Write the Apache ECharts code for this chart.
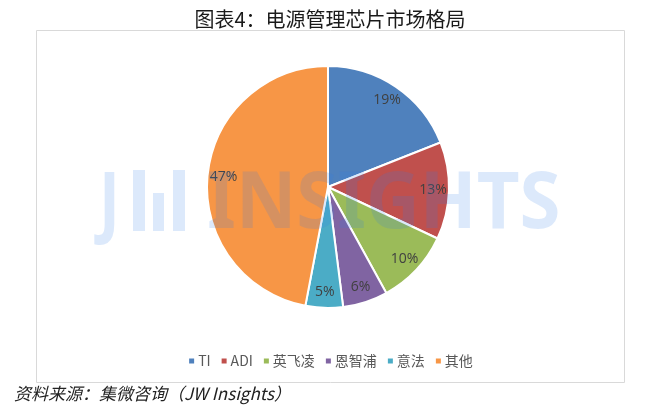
<!DOCTYPE html>
<html><head><meta charset="utf-8">
<script src="https://cdn.jsdelivr.net/npm/echarts@6/dist/echarts.min.js"></script>
<style>html,body{margin:0;padding:0;background:#fff}#c{width:660px;height:413px}</style>
</head><body><div id="c"></div>
<script>
var categories = ['TI','ADI','英飞凌','恩智浦','意法','其他'];
var shares = [19,13,10,6,5,47];
var colors = ['#4F81BD','#C0504D','#9BBB59','#8064A2','#4BACC6','#F79646'];
var titleText = '图表4：电源管理芯片市场格局';
var sourceText = '资料来源：集微咨询（JW Insights）';

var data = categories.map(function(c,i){return {name:c,value:shares[i],itemStyle:{color:colors[i]}};});
var chart = echarts.init(document.getElementById('c'));
var wmFill = 'rgba(50,125,230,0.17)';
chart.setOption({
  animation:false,
  title:{text:titleText,left:'center',top:4,textStyle:{fontFamily:'Noto Sans CJK SC',fontSize:20,fontWeight:'normal',color:'#1a1a1a'}},
  legend:{data:categories,left:'center',top:349,itemWidth:7,itemHeight:7,itemGap:9,icon:'rect',
    textStyle:{fontFamily:'Noto Sans CJK SC',fontSize:14,color:'#595959',padding:[0,0,0,-2]}},
  graphic:[
    {type:'rect',shape:{x:36.5,y:30.5,width:588,height:352},style:{fill:'none',stroke:'#d9d9d9',lineWidth:1},z:-10,silent:true},
    {type:'text',left:14,top:385,style:{text:sourceText,font:'italic 17px "Noto Sans CJK SC"',fill:'#222'}},
    {type:'text',x:99,y:205,z:100,silent:true,scaleX:0.8,style:{text:'J',font:'bold 79px "Noto Sans"',fill:wmFill,verticalAlign:'middle'}},
    {type:'rect',z:100,silent:true,shape:{x:133,y:170,width:12,height:61},style:{fill:wmFill}},
    {type:'rect',z:100,silent:true,shape:{x:153,y:193,width:11,height:38},style:{fill:wmFill}},
    {type:'rect',z:100,silent:true,shape:{x:173,y:170,width:12,height:61},style:{fill:wmFill}},
    {type:'text',x:207,y:205,z:100,silent:true,scaleX:0.94,style:{text:'INSIGHTS',font:'bold 79px "Noto Sans"',fill:wmFill,verticalAlign:'middle'}}
  ],
  series:[
    {type:'pie',center:[328,187],radius:[0,121],startAngle:90,clockwise:true,
     label:{show:false},labelLine:{show:false},
     itemStyle:{borderColor:'#fff',borderWidth:2},data:data,silent:true},
    {type:'pie',center:[328,187],radius:[82,122],startAngle:90,clockwise:true,silent:true,
     legendHoverLink:false,
     itemStyle:{color:'transparent',borderWidth:0},
     label:{show:true,position:'inside',formatter:'{c}%',fontFamily:'Open Sans',fontSize:14,color:'#404040'},
     labelLine:{show:false},
     data:categories.map(function(c,i){return {name:c,value:shares[i],itemStyle:{color:'rgba(0,0,0,0)'}};})}
  ]
});
</script></body></html>
